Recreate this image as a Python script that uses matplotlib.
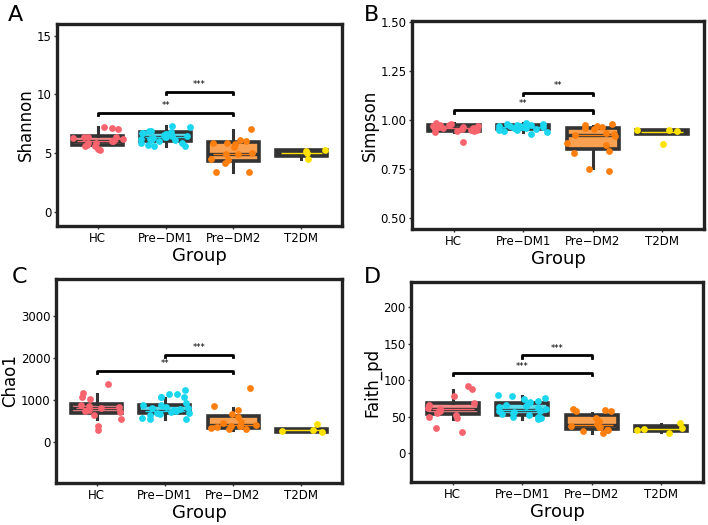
import numpy as np
import matplotlib
matplotlib.use("Agg")
import matplotlib.pyplot as plt

groups = ["HC", "Pre\u2212DM1", "Pre\u2212DM2", "T2DM"]
point_colors = ["#F8646E", "#1AD6EF", "#FF7F0E", "#FFE100"]
fill_colors = ["#F48A8A", "#5DDCEE", "#F9A150", "#333333"]

# --- Shannon ---
shannon_pts = [
    [7.25, 7.1, 7.15, 6.4, 6.4, 6.35, 6.3, 6.1, 6.0, 5.9, 5.85, 5.7, 5.65, 5.6, 5.35, 5.25, 6.2, 6.05],
    [7.35, 7.2, 6.9, 6.85, 6.8, 6.75, 6.7, 6.6, 6.55, 6.5, 6.45, 6.4, 6.35, 6.3, 6.25, 6.2,
     6.15, 6.1, 6.0, 5.9, 5.85, 5.7, 5.65, 5.6, 6.65],
    [7.1, 6.1, 6.0, 5.9, 5.8, 5.5, 5.0, 4.9, 4.9, 4.5, 4.4, 4.15, 3.4, 3.4, 5.85],
    [5.3, 5.2, 5.0, 4.5],
]
shannon_box = [(5.25, 5.7, 6.05, 6.5, 7.2), (5.65, 6.0, 6.35, 6.78, 7.3),
               (3.4, 4.36, 4.96, 5.92, 7.0), (4.5, 4.8, 5.0, 5.3, 5.3)]
shannon_sig = [(1, 3, 8.45, "**"), (2, 3, 10.25, "***")]

# --- Simpson ---
simpson_pts = [
    [0.89, 0.985, 0.98, 0.975, 0.975, 0.97, 0.97, 0.965, 0.965, 0.96, 0.96, 0.955, 0.955,
     0.95, 0.95, 0.945, 0.945, 0.94, 0.97, 0.96],
    [0.985, 0.98, 0.98, 0.975, 0.975, 0.975, 0.97, 0.97, 0.97, 0.965, 0.965, 0.96, 0.96,
     0.955, 0.955, 0.95, 0.95, 0.945, 0.94, 0.93, 0.97, 0.965],
    [0.98, 0.975, 0.97, 0.965, 0.96, 0.955, 0.935, 0.93, 0.925, 0.92, 0.885, 0.875,
     0.84, 0.83, 0.75, 0.74],
    [0.95, 0.95, 0.945, 0.88],
]
simpson_box = [(0.94, 0.945, 0.96, 0.975, 0.985), (0.94, 0.955, 0.965, 0.975, 0.985),
               (0.757, 0.852, 0.923, 0.958, 0.971), (0.93, 0.93, 0.94, 0.95, 0.95)]
simpson_sig = [(1, 3, 1.05, "**"), (2, 3, 1.14, "**")]

# --- Chao1 ---
chao1_pts = [
    [1370, 1160, 1060, 1020, 870, 850, 830, 800, 760, 740, 720, 640, 560, 380, 290],
    [1230, 1140, 1150, 1080, 1080, 1070, 920, 880, 870, 840, 820, 800, 780, 760, 740,
     720, 700, 680, 660, 640, 580, 560, 540],
    [1290, 850, 760, 660, 600, 480, 450, 400, 390, 380, 370, 350, 340, 320, 300],
    [440, 290, 270, 240],
]
chao1_box = [(560, 680, 800, 904, 1136), (544, 696, 736, 880, 1056),
             (280, 344, 416, 624, 816), (240, 240, 280, 320, 320)]
chao1_sig = [(1, 3, 1700, "**"), (2, 3, 2080, "***")]

# --- Faith_pd ---
faith_pts = [
    [92, 88, 78, 68, 66, 65, 62, 60, 58, 55, 52, 50, 48, 34, 29],
    [79, 78, 75, 74, 72, 70, 68, 66, 64, 63, 62, 60, 58, 57, 56, 55, 54, 52, 50, 49, 48, 47],
    [60, 59, 58, 57, 48, 44, 40, 37, 36, 35, 32, 31, 30, 27],
    [41, 34, 33, 32, 27],
]
faith_box = [(47, 53, 61, 68, 86), (47, 52, 59, 68, 78),
             (27, 33.5, 38, 52, 55), (29, 30, 33, 37, 40)]
faith_sig = [(1, 3, 110, "***"), (2, 3, 134, "***")]

W, H = 708, 525
# (letter, ylabel, points, box stats, brackets, ylim, yticks, fmt, axes px box (l, t, r, b), letter px)
panels = [
    ("A", "Shannon", shannon_pts, shannon_box, shannon_sig, (-1.2, 16.0), [0, 5, 10, 15], "{:g}",
     (57, 24, 342, 226), (8, 15)),
    ("B", "Simpson", simpson_pts, simpson_box, simpson_sig, (0.444, 1.505), [0.5, 0.75, 1.0, 1.25, 1.5], "{:.2f}",
     (412, 21, 704, 229), (364, 15)),
    ("C", "Chao1", chao1_pts, chao1_box, chao1_sig, (-975, 3880), [0, 1000, 2000, 3000], "{:g}",
     (56, 279, 342, 483), (12, 277)),
    ("D", "Faith_pd", faith_pts, faith_box, faith_sig, (-40, 235), [0, 50, 100, 150, 200], "{:g}",
     (411, 282, 703, 482), (364, 277)),
]

fig = plt.figure(figsize=(W / 100, H / 100), dpi=100)
rng = np.random.default_rng(7)

for letter, ylab, pts, box, sig, ylim, yticks, fmt, px, lpx in panels:
    l, t, r, b = px
    ax = fig.add_axes([l / W, 1 - b / H, (r - l) / W, (b - t) / H])
    stats = []
    for g, (lo, q1, med, q3, hi) in zip(groups, box):
        stats.append(dict(label=g, whislo=lo, q1=q1, med=med, q3=q3, whishi=hi, fliers=[]))
    bp = ax.bxp(stats, positions=range(1, 5), widths=0.75, patch_artist=True,
                showcaps=False, showfliers=False,
                boxprops=dict(edgecolor="#333333", linewidth=2.6),
                whiskerprops=dict(color="#333333", linewidth=2.2),
                medianprops=dict(color="#333333", linewidth=2.4))
    for patch, fc in zip(bp["boxes"], fill_colors):
        patch.set_facecolor(fc)
    # thin coloured median line inside each box
    for i, (s, pc) in enumerate(zip(stats, point_colors)):
        ax.hlines(s["med"], i + 1 - 0.3, i + 1 + 0.3, color=pc, linewidth=1.0, zorder=4)
    for i, (vals, pc) in enumerate(zip(pts, point_colors)):
        x = i + 1 + rng.uniform(-0.37, 0.37, len(vals))
        ax.scatter(x, vals, s=24, color=pc, zorder=5, linewidths=0)
    span = ylim[1] - ylim[0]
    for x0, x1, y, lab in sig:
        tick = span * 0.012
        ax.plot([x0, x0, x1, x1], [y - tick, y, y, y - tick], color="black", linewidth=2.0)
        ax.text((x0 + x1) / 2, y + span * 0.012, lab, ha="center", va="bottom", fontsize=6)
    ax.set_xlim(0.4, 4.6)
    ax.set_ylim(*ylim)
    ax.set_yticks(yticks)
    ax.set_yticklabels([fmt.format(t) for t in yticks], fontsize=8.5)
    ax.set_xticks(range(1, 5))
    ax.set_xticklabels(groups, fontsize=8.5)
    ax.tick_params(length=2, width=1, color="#333333", pad=2)
    ax.set_ylabel(ylab, fontsize=12, labelpad=1)
    ax.set_xlabel("Group", fontsize=13, labelpad=2)
    for sp in ax.spines.values():
        sp.set_linewidth(2.4)
        sp.set_color("#222222")
    fig.text(lpx[0] / W, 1 - lpx[1] / H, letter, fontsize=16, va="center", ha="left")

fig.savefig("out.png", dpi=100)
